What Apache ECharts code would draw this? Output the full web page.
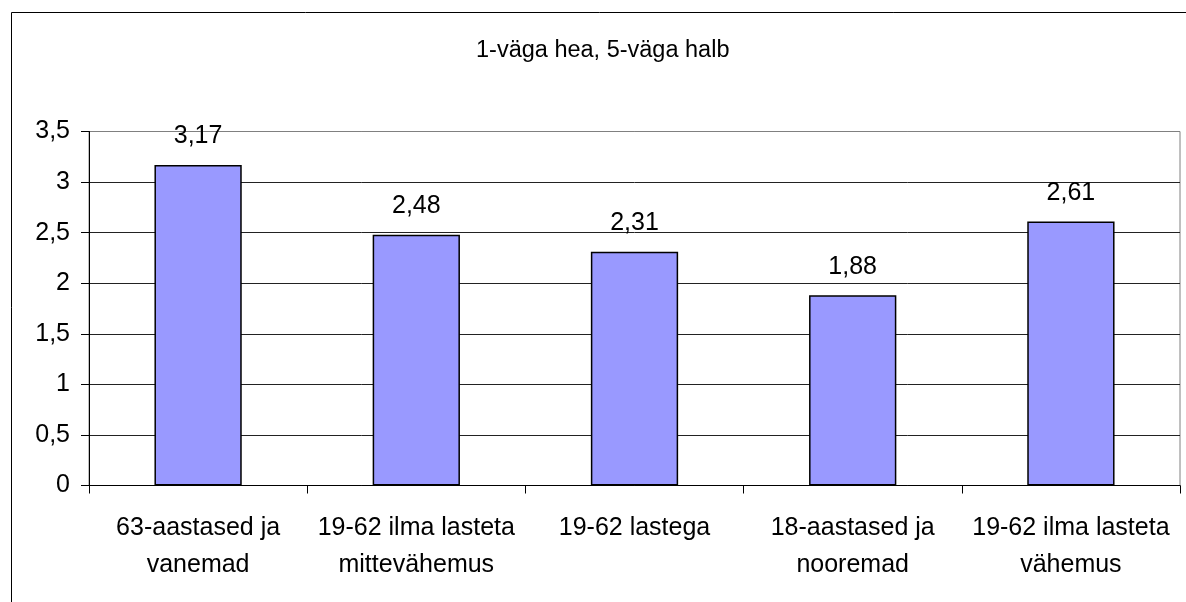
<!DOCTYPE html>
<html>
<head>
<meta charset="utf-8">
<script src="https://cdn.jsdelivr.net/npm/echarts@6/dist/echarts.min.js"></script>
<style>
html,body{margin:0;padding:0;background:#fff;}
#c{width:1186px;height:602px;}
</style>
</head>
<body>
<div id="c"></div>
<script>
var titleText = '1-väga hea, 5-väga halb';
var categories = ['63-aastased ja\nvanemad', '19-62 ilma lasteta\nmittevähemus', '19-62 lastega', '18-aastased ja\nnooremad', '19-62 ilma lasteta\nvähemus'];
var values = [3.17, 2.48, 2.31, 1.88, 2.61];
var yMin = 0, yMax = 3.5, yStep = 0.5;

function comma(v){ return String(v).replace('.', ','); }

var chart = echarts.init(document.getElementById('c'), null, {renderer:'canvas'});
var font = 'Liberation Sans, Arial, sans-serif';
chart.setOption({
  animation: false,
  backgroundColor: '#fff',
  title: {
    text: titleText,
    left: 471,
    top: 34,
    textStyle: {fontFamily: font, fontSize: 23.5, fontWeight: 'normal', color: '#000'}
  },
  graphic: [{
    type: 'rect',
    shape: {x: 11.5, y: 12.5, width: 1190, height: 700},
    style: {fill: 'none', stroke: '#000', lineWidth: 1},
    silent: true,
    z: 100
  }],
  grid: {
    left: 89, right: 6, top: 131.5, bottom: 116.5,
    show: true, borderColor: '#808080', borderWidth: 1, backgroundColor: 'transparent'
  },
  xAxis: {
    type: 'category',
    data: categories,
    boundaryGap: true,
    axisLine: {show: true, lineStyle: {color: '#000', width: 1}},
    axisTick: {show: true, length: 8, inside: false, alignWithLabel: false, lineStyle: {color: '#000'}},
    axisLabel: {fontFamily: font, fontSize: 25, color: '#000', margin: 24, lineHeight: 37, interval: 0},
    splitLine: {show: false}
  },
  yAxis: {
    type: 'value',
    min: yMin, max: yMax, interval: yStep,
    axisLine: {show: true, lineStyle: {color: '#000', width: 1}},
    axisTick: {show: true, length: 8, lineStyle: {color: '#000'}},
    axisLabel: {fontFamily: font, fontSize: 25, color: '#000', margin: 19, formatter: function(v){ return comma(v); }},
    splitLine: {show: true, lineStyle: {color: ['#222','#222','#222','#222','#222','#222','#222','#808080'], width: 1}}
  },
  series: [{
    type: 'bar',
    data: values,
    barWidth: '40%',
    itemStyle: {color: '#9999FF', borderColor: '#000', borderWidth: 1.5},
    label: {
      show: true, position: 'top', distance: 16,
      fontFamily: font, fontSize: 25, color: '#000',
      formatter: function(p){ return comma(p.value); }
    }
  }]
});
</script>
</body>
</html>
